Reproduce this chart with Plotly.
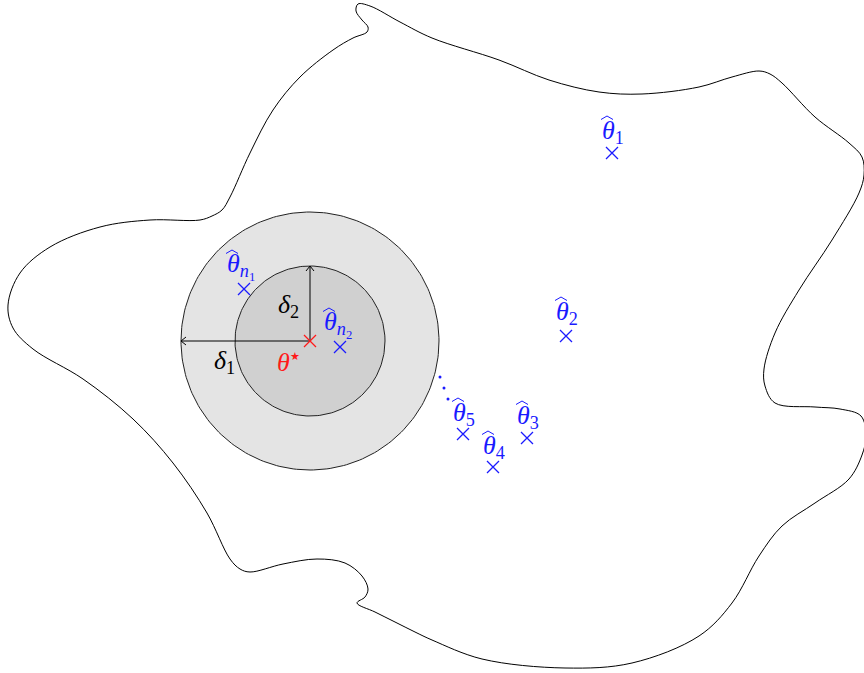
import numpy as np
import plotly.graph_objects as go

# ---- data (pixel-space diagram coordinates) ----
blob_x = [432, 400, 370, 358, 356, 362, 368, 367, 353, 333, 300, 273, 250, 230, 222, 212, 200, 150, 100, 50, 20, 8, 13,
          33, 83, 133, 173, 207, 230, 240, 250, 283, 317, 345, 362, 368, 365, 357, 375, 395, 415,
          432, 482, 565, 632, 699, 732, 759, 782, 815, 849, 862, 866, 861, 840, 815, 775, 765, 764, 775, 799, 832, 859,
          864, 862, 849, 815, 782, 770, 759, 732, 699, 642, 599, 549, 499, 432]
blob_y = [38, 22, 6, 4, 11, 20, 27, 32, 38, 50, 77, 110, 153, 197, 210, 216, 220, 220, 227, 247, 273, 305, 328,
          349, 379, 419, 463, 513, 559, 569, 572, 564, 559, 563, 576, 589, 597, 603, 612, 622, 632,
          640, 659, 668, 663, 636, 603, 556, 526, 503, 479, 455, 436, 416, 409, 407, 403, 386, 369, 333, 290, 240, 193,
          175, 157, 143, 117, 83, 74, 71, 77, 87, 94, 92, 80, 60, 38]

center = (310, 341)
radius_outer = 129
radius_inner = 75

# estimator crosses
est_x = [612, 566, 527, 493, 463, 244, 340]
est_y = [153, 336, 438, 467, 434, 289, 347]
# estimator labels: subscript text and theta-glyph centre
est_subs = ["1", "2", "3", "4", "5", "<i>n</i><sub>1</sub>", "<i>n</i><sub>2</sub>"]
theta_cx = [607, 561, 522, 488, 458, 232, 329]
theta_cy = [131, 312, 416, 446, 413, 265, 323]

dots_x = [440, 444, 448]
dots_y = [377, 388, 399]

BLUE = "#1a1aff"
RED = "#ff1a1a"
FONT = "Liberation Serif"
FS = 26

fig = go.Figure()

# blob outline
fig.add_trace(go.Scatter(x=blob_x, y=blob_y, mode="lines",
                         line=dict(color="black", width=1, shape="spline", smoothing=1.0),
                         hoverinfo="skip", showlegend=False))

# circles
t = np.linspace(0, 2 * np.pi, 241)
for r, fc in [(radius_outer, "#e4e4e4"), (radius_inner, "#d0d0d0")]:
    fig.add_trace(go.Scatter(x=center[0] + r * np.cos(t), y=center[1] + r * np.sin(t),
                             mode="lines", fill="toself", fillcolor=fc,
                             line=dict(color="#222222", width=1), hoverinfo="skip", showlegend=False))


def arrow(x0, y0, x1, y1):
    d = np.array([x1 - x0, y1 - y0], float)
    d /= np.linalg.norm(d)
    n = np.array([-d[1], d[0]])
    a = 5
    p1 = np.array([x1, y1]) - a * d + a * 0.8 * n
    p2 = np.array([x1, y1]) - a * d - a * 0.8 * n
    fig.add_trace(go.Scatter(x=[x0, x1, None, p1[0], x1, p2[0]], y=[y0, y1, None, p1[1], y1, p2[1]],
                             mode="lines", line=dict(color="black", width=1),
                             hoverinfo="skip", showlegend=False))


arrow(center[0], center[1], center[0] - radius_outer, center[1])
arrow(center[0], center[1], center[0], center[1] - radius_inner)

# estimators
fig.add_trace(go.Scatter(x=est_x, y=est_y, mode="markers",
                         marker=dict(symbol="x-thin", size=12, line=dict(color=BLUE, width=1.3)),
                         hoverinfo="skip", showlegend=False))
# theta star
fig.add_trace(go.Scatter(x=[center[0]], y=[center[1]], mode="markers",
                         marker=dict(symbol="x-thin", size=12, line=dict(color=RED, width=1.3)),
                         hoverinfo="skip", showlegend=False))
# dots
fig.add_trace(go.Scatter(x=dots_x, y=dots_y, mode="markers",
                         marker=dict(symbol="circle", size=3, color=BLUE),
                         hoverinfo="skip", showlegend=False))

# wide hats over thetas
hx, hy = [], []
for cx, cy in zip(theta_cx, theta_cy):
    top = cy - 15
    hx += [cx - 6, cx, cx + 6, None]
    hy += [top + 3.5, top, top + 3.5, None]
fig.add_trace(go.Scatter(x=hx, y=hy, mode="lines", line=dict(color=BLUE, width=1),
                         hoverinfo="skip", showlegend=False))

for sub, cx, cy in zip(est_subs, theta_cx, theta_cy):
    fig.add_annotation(x=cx - 7, y=cy + 1, xanchor="left", yanchor="middle",
                       text="<i>θ</i><sub>" + sub + "</sub>", showarrow=False,
                       font=dict(family=FONT, size=FS, color=BLUE))

fig.add_annotation(x=275, y=362, xanchor="left", yanchor="middle",
                   text="<i>θ</i><sup><span style='font-size:11px'>★</span></sup>", showarrow=False,
                   font=dict(family=FONT, size=FS, color=RED))
fig.add_annotation(x=212, y=362, xanchor="left", yanchor="middle",
                   text="<i>δ</i><sub>1</sub>", showarrow=False,
                   font=dict(family=FONT, size=FS, color="black"))
fig.add_annotation(x=276, y=306, xanchor="left", yanchor="middle",
                   text="<i>δ</i><sub>2</sub>", showarrow=False,
                   font=dict(family=FONT, size=FS, color="black"))

fig.update_layout(width=864, height=673, margin=dict(l=0, r=0, t=0, b=0),
                  paper_bgcolor="white", plot_bgcolor="white",
                  xaxis=dict(range=[0, 864], visible=False, fixedrange=True),
                  yaxis=dict(range=[673, 0], visible=False, fixedrange=True))

fig.write_html("out.html", config={"displayModeBar": False},
               post_script="document.body.style.margin='0';document.body.style.overflow='hidden';")
